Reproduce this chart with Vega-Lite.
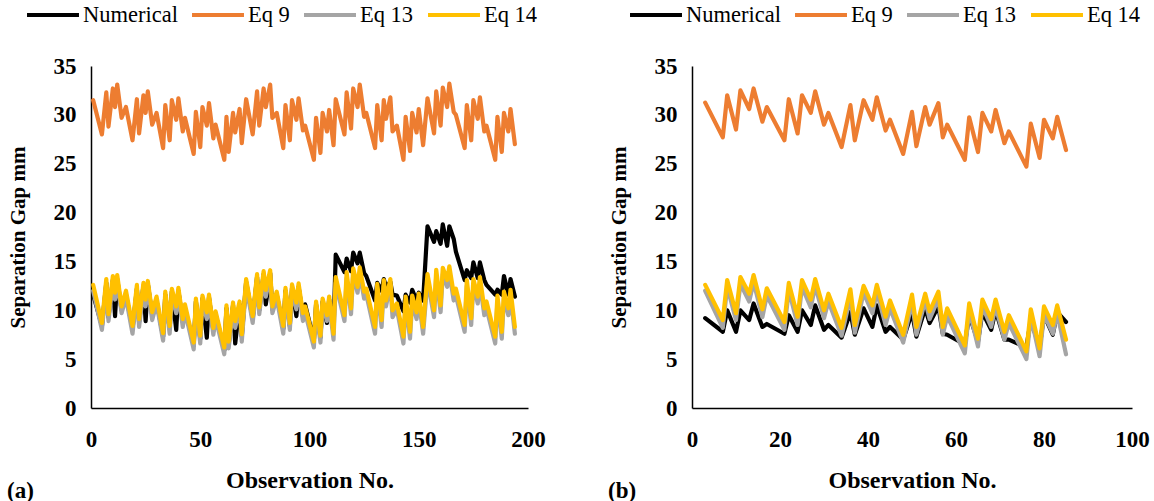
{
  "$schema": "https://vega.github.io/schema/vega-lite/v6.json",
  "background": "white",
  "padding": {"left": 7, "top": 2, "right": 5, "bottom": 0},
  "config": {
    "view": {"stroke": null},
    "font": "Liberation Serif",
    "axis": {
      "domainColor": "black", "domainWidth": 1.5, "ticks": false, "grid": false, "labelFlush": false,
      "labelFont": "Liberation Serif", "labelFontWeight": "bold", "labelFontSize": 23, "labelColor": "black",
      "titleFont": "Liberation Serif", "titleFontWeight": "bold", "titleFontSize": 21, "titleColor": "black"
    },
    "legend": {
      "orient": "none", "direction": "horizontal", "title": null,
      "symbolType": "stroke", "symbolSize": 2700, "symbolStrokeWidth": 4, "clipHeight": 26,
      "labelFont": "Liberation Serif", "labelFontWeight": "normal", "labelFontSize": 22.5, "labelColor": "black",
      "labelOffset": 2, "columnPadding": 12
    },
    "title": {"font": "Liberation Serif", "fontWeight": "bold", "fontSize": 23, "color": "black"}
  },
  "datasets": {
    "panelA": [
      {"Observation": 1, "Numerical": 11.6, "Eq 9": 31.5, "Eq 13": 12.0, "Eq 14": 12.6},
      {"Observation": 5, "Numerical": 8.4, "Eq 9": 28.0, "Eq 13": 8.0, "Eq 14": 8.7},
      {"Observation": 7, "Numerical": 12.8, "Eq 9": 32.3, "Eq 13": 12.6, "Eq 14": 13.2},
      {"Observation": 8, "Numerical": 9.3, "Eq 9": 28.8, "Eq 13": 8.9, "Eq 14": 9.6},
      {"Observation": 10, "Numerical": 13.1, "Eq 9": 32.7, "Eq 13": 12.9, "Eq 14": 13.5},
      {"Observation": 11, "Numerical": 9.4, "Eq 9": 30.8, "Eq 13": 11.1, "Eq 14": 11.8},
      {"Observation": 12, "Numerical": 13.2, "Eq 9": 33.1, "Eq 13": 13.0, "Eq 14": 13.6},
      {"Observation": 14, "Numerical": 10.0, "Eq 9": 29.7, "Eq 13": 9.7, "Eq 14": 10.4},
      {"Observation": 16, "Numerical": 11.6, "Eq 9": 30.8, "Eq 13": 11.3, "Eq 14": 12.0},
      {"Observation": 19, "Numerical": 8.1, "Eq 9": 27.4, "Eq 13": 7.6, "Eq 14": 8.4},
      {"Observation": 21, "Numerical": 12.2, "Eq 9": 31.6, "Eq 13": 12.0, "Eq 14": 12.6},
      {"Observation": 22, "Numerical": 8.8, "Eq 9": 28.1, "Eq 13": 8.3, "Eq 14": 9.1},
      {"Observation": 24, "Numerical": 12.5, "Eq 9": 32.0, "Eq 13": 12.2, "Eq 14": 12.8},
      {"Observation": 25, "Numerical": 8.9, "Eq 9": 30.2, "Eq 13": 10.4, "Eq 14": 11.1},
      {"Observation": 26, "Numerical": 12.7, "Eq 9": 32.4, "Eq 13": 12.4, "Eq 14": 13.0},
      {"Observation": 28, "Numerical": 9.5, "Eq 9": 29.0, "Eq 13": 9.0, "Eq 14": 9.8},
      {"Observation": 30, "Numerical": 11.0, "Eq 9": 30.2, "Eq 13": 10.7, "Eq 14": 11.4},
      {"Observation": 33, "Numerical": 7.3, "Eq 9": 26.6, "Eq 13": 6.9, "Eq 14": 7.65},
      {"Observation": 34, "Numerical": 11.6, "Eq 9": 31.0, "Eq 13": 11.3, "Eq 14": 11.9},
      {"Observation": 36, "Numerical": 8.1, "Eq 9": 27.4, "Eq 13": 7.6, "Eq 14": 8.4},
      {"Observation": 37, "Numerical": 11.9, "Eq 9": 31.5, "Eq 13": 11.6, "Eq 14": 12.2},
      {"Observation": 39, "Numerical": 8.0, "Eq 9": 29.5, "Eq 13": 9.7, "Eq 14": 10.4},
      {"Observation": 40, "Numerical": 12.0, "Eq 9": 31.7, "Eq 13": 11.7, "Eq 14": 12.3},
      {"Observation": 42, "Numerical": 8.8, "Eq 9": 28.3, "Eq 13": 8.3, "Eq 14": 9.1},
      {"Observation": 43, "Numerical": 10.2, "Eq 9": 29.7, "Eq 13": 9.9, "Eq 14": 10.6},
      {"Observation": 47, "Numerical": 6.4, "Eq 9": 26.0, "Eq 13": 6.0, "Eq 14": 6.7},
      {"Observation": 48, "Numerical": 10.9, "Eq 9": 30.3, "Eq 13": 10.6, "Eq 14": 11.2},
      {"Observation": 50, "Numerical": 7.1, "Eq 9": 26.7, "Eq 13": 6.6, "Eq 14": 7.4},
      {"Observation": 51, "Numerical": 11.2, "Eq 9": 30.8, "Eq 13": 10.9, "Eq 14": 11.5},
      {"Observation": 53, "Numerical": 7.2, "Eq 9": 28.9, "Eq 13": 9.1, "Eq 14": 9.8},
      {"Observation": 54, "Numerical": 11.3, "Eq 9": 31.2, "Eq 13": 11.0, "Eq 14": 11.6},
      {"Observation": 56, "Numerical": 7.9, "Eq 9": 27.6, "Eq 13": 7.5, "Eq 14": 8.2},
      {"Observation": 57, "Numerical": 9.6, "Eq 9": 29.0, "Eq 13": 9.2, "Eq 14": 9.9},
      {"Observation": 61, "Numerical": 5.9, "Eq 9": 25.4, "Eq 13": 5.5, "Eq 14": 6.2},
      {"Observation": 62, "Numerical": 10.2, "Eq 9": 29.8, "Eq 13": 9.9, "Eq 14": 10.5},
      {"Observation": 63, "Numerical": 6.5, "Eq 9": 26.2, "Eq 13": 6.1, "Eq 14": 6.8},
      {"Observation": 65, "Numerical": 10.5, "Eq 9": 30.2, "Eq 13": 10.2, "Eq 14": 10.8},
      {"Observation": 66, "Numerical": 6.6, "Eq 9": 28.2, "Eq 13": 8.2, "Eq 14": 8.9},
      {"Observation": 68, "Numerical": 10.6, "Eq 9": 30.6, "Eq 13": 10.3, "Eq 14": 10.9},
      {"Observation": 69, "Numerical": 7.3, "Eq 9": 27.1, "Eq 13": 6.8, "Eq 14": 7.55},
      {"Observation": 71, "Numerical": 12.9, "Eq 9": 31.6, "Eq 13": 12.6, "Eq 14": 13.2},
      {"Observation": 74, "Numerical": 9.1, "Eq 9": 28.0, "Eq 13": 8.7, "Eq 14": 9.4},
      {"Observation": 76, "Numerical": 13.4, "Eq 9": 32.4, "Eq 13": 13.1, "Eq 14": 13.7},
      {"Observation": 77, "Numerical": 10.0, "Eq 9": 28.9, "Eq 13": 9.6, "Eq 14": 10.3},
      {"Observation": 79, "Numerical": 13.7, "Eq 9": 32.7, "Eq 13": 13.4, "Eq 14": 14.0},
      {"Observation": 80, "Numerical": 10.6, "Eq 9": 30.8, "Eq 13": 11.4, "Eq 14": 12.1},
      {"Observation": 82, "Numerical": 13.8, "Eq 9": 33.1, "Eq 13": 13.5, "Eq 14": 14.1},
      {"Observation": 83, "Numerical": 10.1, "Eq 9": 29.7, "Eq 13": 9.7, "Eq 14": 10.4},
      {"Observation": 85, "Numerical": 11.6, "Eq 9": 30.2, "Eq 13": 11.2, "Eq 14": 11.9},
      {"Observation": 88, "Numerical": 8.1, "Eq 9": 26.6, "Eq 13": 7.6, "Eq 14": 8.4},
      {"Observation": 89, "Numerical": 12.0, "Eq 9": 31.0, "Eq 13": 11.7, "Eq 14": 12.3},
      {"Observation": 91, "Numerical": 8.4, "Eq 9": 27.4, "Eq 13": 8.0, "Eq 14": 8.7},
      {"Observation": 92, "Numerical": 12.3, "Eq 9": 31.5, "Eq 13": 12.0, "Eq 14": 12.65},
      {"Observation": 94, "Numerical": 9.4, "Eq 9": 29.5, "Eq 13": 10.1, "Eq 14": 10.8},
      {"Observation": 95, "Numerical": 12.4, "Eq 9": 31.7, "Eq 13": 12.1, "Eq 14": 12.75},
      {"Observation": 97, "Numerical": 9.4, "Eq 9": 28.4, "Eq 13": 8.9, "Eq 14": 9.7},
      {"Observation": 98, "Numerical": 10.6, "Eq 9": 28.9, "Eq 13": 9.8, "Eq 14": 10.4},
      {"Observation": 102, "Numerical": 6.9, "Eq 9": 25.4, "Eq 13": 6.2, "Eq 14": 6.8},
      {"Observation": 103, "Numerical": 10.6, "Eq 9": 29.7, "Eq 13": 10.3, "Eq 14": 10.9},
      {"Observation": 105, "Numerical": 7.2, "Eq 9": 26.1, "Eq 13": 6.7, "Eq 14": 7.4},
      {"Observation": 106, "Numerical": 10.9, "Eq 9": 30.2, "Eq 13": 10.6, "Eq 14": 11.2},
      {"Observation": 108, "Numerical": 8.7, "Eq 9": 28.3, "Eq 13": 8.9, "Eq 14": 9.5},
      {"Observation": 109, "Numerical": 11.1, "Eq 9": 30.5, "Eq 13": 10.8, "Eq 14": 11.4},
      {"Observation": 111, "Numerical": 7.9, "Eq 9": 26.9, "Eq 13": 7.0, "Eq 14": 7.6},
      {"Observation": 112, "Numerical": 15.7, "Eq 9": 31.6, "Eq 13": 12.8, "Eq 14": 13.4},
      {"Observation": 116, "Numerical": 13.9, "Eq 9": 28.0, "Eq 13": 8.9, "Eq 14": 9.5},
      {"Observation": 117, "Numerical": 15.3, "Eq 9": 32.3, "Eq 13": 13.3, "Eq 14": 13.9},
      {"Observation": 119, "Numerical": 14.0, "Eq 9": 28.6, "Eq 13": 9.6, "Eq 14": 10.2},
      {"Observation": 120, "Numerical": 15.9, "Eq 9": 32.7, "Eq 13": 13.7, "Eq 14": 14.3},
      {"Observation": 122, "Numerical": 14.8, "Eq 9": 30.8, "Eq 13": 11.8, "Eq 14": 12.4},
      {"Observation": 123, "Numerical": 15.9, "Eq 9": 33.1, "Eq 13": 13.8, "Eq 14": 14.4},
      {"Observation": 125, "Numerical": 13.8, "Eq 9": 29.8, "Eq 13": 11.2, "Eq 14": 11.9},
      {"Observation": 126, "Numerical": 13.5, "Eq 9": 30.2, "Eq 13": 11.6, "Eq 14": 12.2},
      {"Observation": 130, "Numerical": 11.0, "Eq 9": 26.6, "Eq 13": 7.6, "Eq 14": 8.3},
      {"Observation": 131, "Numerical": 12.8, "Eq 9": 31.0, "Eq 13": 12.1, "Eq 14": 12.7},
      {"Observation": 133, "Numerical": 12.0, "Eq 9": 27.4, "Eq 13": 8.3, "Eq 14": 9.0},
      {"Observation": 134, "Numerical": 13.2, "Eq 9": 31.5, "Eq 13": 12.5, "Eq 14": 13.1},
      {"Observation": 135, "Numerical": 12.4, "Eq 9": 29.6, "Eq 13": 10.4, "Eq 14": 11.0},
      {"Observation": 137, "Numerical": 12.9, "Eq 9": 31.8, "Eq 13": 12.6, "Eq 14": 13.2},
      {"Observation": 138, "Numerical": 11.6, "Eq 9": 28.3, "Eq 13": 9.3, "Eq 14": 10.0},
      {"Observation": 140, "Numerical": 11.5, "Eq 9": 28.9, "Eq 13": 10.1, "Eq 14": 10.7},
      {"Observation": 143, "Numerical": 9.9, "Eq 9": 25.4, "Eq 13": 6.6, "Eq 14": 7.3},
      {"Observation": 144, "Numerical": 11.6, "Eq 9": 29.8, "Eq 13": 10.8, "Eq 14": 11.4},
      {"Observation": 146, "Numerical": 10.8, "Eq 9": 26.3, "Eq 13": 7.1, "Eq 14": 7.8},
      {"Observation": 147, "Numerical": 12.1, "Eq 9": 30.2, "Eq 13": 10.9, "Eq 14": 11.5},
      {"Observation": 149, "Numerical": 11.0, "Eq 9": 28.2, "Eq 13": 9.1, "Eq 14": 9.8},
      {"Observation": 150, "Numerical": 11.8, "Eq 9": 30.6, "Eq 13": 11.1, "Eq 14": 11.7},
      {"Observation": 152, "Numerical": 11.0, "Eq 9": 26.9, "Eq 13": 7.6, "Eq 14": 8.3},
      {"Observation": 154, "Numerical": 18.6, "Eq 9": 31.7, "Eq 13": 13.1, "Eq 14": 13.7},
      {"Observation": 157, "Numerical": 17.0, "Eq 9": 28.1, "Eq 13": 9.3, "Eq 14": 10.0},
      {"Observation": 158, "Numerical": 18.1, "Eq 9": 32.4, "Eq 13": 13.5, "Eq 14": 14.15},
      {"Observation": 160, "Numerical": 16.8, "Eq 9": 28.9, "Eq 13": 9.8, "Eq 14": 10.5},
      {"Observation": 161, "Numerical": 18.8, "Eq 9": 32.8, "Eq 13": 13.7, "Eq 14": 14.35},
      {"Observation": 163, "Numerical": 16.6, "Eq 9": 30.8, "Eq 13": 12.4, "Eq 14": 13.1},
      {"Observation": 164, "Numerical": 18.6, "Eq 9": 33.2, "Eq 13": 13.9, "Eq 14": 14.5},
      {"Observation": 166, "Numerical": 17.3, "Eq 9": 30.3, "Eq 13": 11.0, "Eq 14": 11.7},
      {"Observation": 167, "Numerical": 16.0, "Eq 9": 30.0, "Eq 13": 11.5, "Eq 14": 12.2},
      {"Observation": 171, "Numerical": 13.1, "Eq 9": 26.6, "Eq 13": 7.8, "Eq 14": 8.5},
      {"Observation": 172, "Numerical": 14.1, "Eq 9": 31.0, "Eq 13": 12.5, "Eq 14": 13.1},
      {"Observation": 174, "Numerical": 13.3, "Eq 9": 27.4, "Eq 13": 8.5, "Eq 14": 9.2},
      {"Observation": 175, "Numerical": 14.9, "Eq 9": 31.5, "Eq 13": 12.6, "Eq 14": 13.2},
      {"Observation": 177, "Numerical": 13.3, "Eq 9": 29.6, "Eq 13": 10.7, "Eq 14": 11.4},
      {"Observation": 178, "Numerical": 14.9, "Eq 9": 31.8, "Eq 13": 12.8, "Eq 14": 13.4},
      {"Observation": 180, "Numerical": 13.1, "Eq 9": 28.3, "Eq 13": 9.5, "Eq 14": 10.2},
      {"Observation": 181, "Numerical": 12.6, "Eq 9": 28.9, "Eq 13": 10.2, "Eq 14": 10.9},
      {"Observation": 185, "Numerical": 11.6, "Eq 9": 25.4, "Eq 13": 6.6, "Eq 14": 7.3},
      {"Observation": 186, "Numerical": 12.1, "Eq 9": 29.8, "Eq 13": 10.9, "Eq 14": 11.5},
      {"Observation": 188, "Numerical": 11.6, "Eq 9": 26.2, "Eq 13": 7.1, "Eq 14": 7.8},
      {"Observation": 189, "Numerical": 13.5, "Eq 9": 30.2, "Eq 13": 11.3, "Eq 14": 11.9},
      {"Observation": 191, "Numerical": 11.6, "Eq 9": 28.3, "Eq 13": 9.5, "Eq 14": 10.2},
      {"Observation": 192, "Numerical": 13.2, "Eq 9": 30.6, "Eq 13": 11.5, "Eq 14": 12.1},
      {"Observation": 194, "Numerical": 11.4, "Eq 9": 27.0, "Eq 13": 7.6, "Eq 14": 8.3}
    ],
    "panelB": [
      {"Observation": 3, "Numerical": 9.2, "Eq 9": 31.25, "Eq 13": 12.0, "Eq 14": 12.6},
      {"Observation": 7, "Numerical": 7.8, "Eq 9": 27.7, "Eq 13": 8.2, "Eq 14": 9.0},
      {"Observation": 8, "Numerical": 10.0, "Eq 9": 32.0, "Eq 13": 12.4, "Eq 14": 13.1},
      {"Observation": 10, "Numerical": 7.8, "Eq 9": 28.5, "Eq 13": 9.0, "Eq 14": 9.7},
      {"Observation": 11, "Numerical": 10.0, "Eq 9": 32.5, "Eq 13": 12.7, "Eq 14": 13.4},
      {"Observation": 13, "Numerical": 9.0, "Eq 9": 30.6, "Eq 13": 10.9, "Eq 14": 11.7},
      {"Observation": 14, "Numerical": 10.7, "Eq 9": 32.7, "Eq 13": 12.9, "Eq 14": 13.6},
      {"Observation": 16, "Numerical": 8.3, "Eq 9": 29.3, "Eq 13": 9.3, "Eq 14": 10.1},
      {"Observation": 17, "Numerical": 8.6, "Eq 9": 30.8, "Eq 13": 11.5, "Eq 14": 12.25},
      {"Observation": 21, "Numerical": 7.6, "Eq 9": 27.4, "Eq 13": 8.0, "Eq 14": 8.8},
      {"Observation": 22, "Numerical": 9.5, "Eq 9": 31.6, "Eq 13": 12.1, "Eq 14": 12.8},
      {"Observation": 24, "Numerical": 7.8, "Eq 9": 28.1, "Eq 13": 8.5, "Eq 14": 9.35},
      {"Observation": 25, "Numerical": 10.0, "Eq 9": 32.0, "Eq 13": 12.4, "Eq 14": 13.1},
      {"Observation": 27, "Numerical": 8.5, "Eq 9": 30.2, "Eq 13": 10.3, "Eq 14": 11.1},
      {"Observation": 28, "Numerical": 10.5, "Eq 9": 32.4, "Eq 13": 12.5, "Eq 14": 13.2},
      {"Observation": 30, "Numerical": 8.0, "Eq 9": 29.0, "Eq 13": 9.2, "Eq 14": 10.0},
      {"Observation": 31, "Numerical": 8.5, "Eq 9": 30.2, "Eq 13": 10.9, "Eq 14": 11.7},
      {"Observation": 34, "Numerical": 7.2, "Eq 9": 26.7, "Eq 13": 7.4, "Eq 14": 8.2},
      {"Observation": 36, "Numerical": 9.8, "Eq 9": 31.0, "Eq 13": 11.4, "Eq 14": 12.15},
      {"Observation": 37, "Numerical": 7.5, "Eq 9": 27.4, "Eq 13": 7.7, "Eq 14": 8.5},
      {"Observation": 39, "Numerical": 10.2, "Eq 9": 31.5, "Eq 13": 11.8, "Eq 14": 12.5},
      {"Observation": 41, "Numerical": 8.3, "Eq 9": 29.5, "Eq 13": 9.7, "Eq 14": 10.5},
      {"Observation": 42, "Numerical": 10.5, "Eq 9": 31.8, "Eq 13": 11.9, "Eq 14": 12.6},
      {"Observation": 44, "Numerical": 7.8, "Eq 9": 28.4, "Eq 13": 8.5, "Eq 14": 9.35},
      {"Observation": 45, "Numerical": 8.3, "Eq 9": 29.5, "Eq 13": 10.2, "Eq 14": 11.0},
      {"Observation": 48, "Numerical": 7.0, "Eq 9": 26.0, "Eq 13": 6.7, "Eq 14": 7.5},
      {"Observation": 50, "Numerical": 9.8, "Eq 9": 30.3, "Eq 13": 10.9, "Eq 14": 11.6},
      {"Observation": 51, "Numerical": 7.3, "Eq 9": 26.8, "Eq 13": 7.5, "Eq 14": 8.3},
      {"Observation": 53, "Numerical": 10.2, "Eq 9": 30.8, "Eq 13": 11.0, "Eq 14": 11.7},
      {"Observation": 54, "Numerical": 8.7, "Eq 9": 29.0, "Eq 13": 9.1, "Eq 14": 9.9},
      {"Observation": 56, "Numerical": 10.4, "Eq 9": 31.2, "Eq 13": 11.2, "Eq 14": 11.9},
      {"Observation": 57, "Numerical": 7.6, "Eq 9": 27.7, "Eq 13": 7.5, "Eq 14": 8.3},
      {"Observation": 58, "Numerical": 7.5, "Eq 9": 29.0, "Eq 13": 9.4, "Eq 14": 10.2},
      {"Observation": 62, "Numerical": 6.5, "Eq 9": 25.4, "Eq 13": 5.6, "Eq 14": 6.4},
      {"Observation": 63, "Numerical": 9.5, "Eq 9": 29.75, "Eq 13": 10.0, "Eq 14": 10.7},
      {"Observation": 65, "Numerical": 6.8, "Eq 9": 26.2, "Eq 13": 6.3, "Eq 14": 7.1},
      {"Observation": 66, "Numerical": 9.8, "Eq 9": 30.2, "Eq 13": 10.4, "Eq 14": 11.1},
      {"Observation": 68, "Numerical": 8.0, "Eq 9": 28.3, "Eq 13": 8.3, "Eq 14": 9.1},
      {"Observation": 69, "Numerical": 10.0, "Eq 9": 30.5, "Eq 13": 10.4, "Eq 14": 11.1},
      {"Observation": 71, "Numerical": 7.0, "Eq 9": 27.1, "Eq 13": 7.0, "Eq 14": 7.8},
      {"Observation": 72, "Numerical": 7.0, "Eq 9": 28.3, "Eq 13": 8.7, "Eq 14": 9.5},
      {"Observation": 76, "Numerical": 6.2, "Eq 9": 24.7, "Eq 13": 5.0, "Eq 14": 5.8},
      {"Observation": 77, "Numerical": 9.0, "Eq 9": 29.1, "Eq 13": 9.4, "Eq 14": 10.1},
      {"Observation": 79, "Numerical": 6.2, "Eq 9": 25.6, "Eq 13": 5.3, "Eq 14": 6.1},
      {"Observation": 80, "Numerical": 9.5, "Eq 9": 29.5, "Eq 13": 9.6, "Eq 14": 10.4},
      {"Observation": 82, "Numerical": 7.5, "Eq 9": 27.6, "Eq 13": 7.6, "Eq 14": 8.5},
      {"Observation": 83, "Numerical": 9.8, "Eq 9": 29.8, "Eq 13": 9.7, "Eq 14": 10.5},
      {"Observation": 85, "Numerical": 8.8, "Eq 9": 26.4, "Eq 13": 5.5, "Eq 14": 7.0}
    ]
  },
  "bounds": "flush",
  "spacing": 164,
  "resolve": {"scale": {"color": "independent"}, "legend": {"color": "independent"}},
  "hconcat": [
    {
      "width": 437,
      "height": 342,
      "title": {"text": "(a)", "orient": "bottom", "anchor": "start", "frame": "bounds", "offset": -12},
      "data": {"name": "panelA"},
      "transform": [{"fold": ["Numerical", "Eq 9", "Eq 13", "Eq 14"], "as": ["Series", "Gap"]}],
      "mark": {"type": "line", "strokeWidth": 4.2, "strokeJoin": "round", "strokeCap": "round"},
      "encoding": {
        "x": {
          "field": "Observation", "type": "quantitative",
          "scale": {"domain": [0, 200], "nice": false},
          "axis": {"values": [0, 50, 100, 150, 200], "title": "Observation No.", "titleFontSize": 24, "labelPadding": 20, "titlePadding": 17}
        },
        "y": {
          "field": "Gap", "type": "quantitative",
          "scale": {"domain": [0, 35], "nice": false},
          "axis": {"values": [0, 5, 10, 15, 20, 25, 30, 35], "title": "Separation Gap mm", "labelPadding": 15, "titlePadding": 25}
        },
        "color": {
          "field": "Series", "type": "nominal",
          "scale": {"domain": ["Numerical", "Eq 9", "Eq 13", "Eq 14"], "range": ["#000000", "#ED7D31", "#A5A5A5", "#FFC000"]},
          "legend": {"legendX": -66, "legendY": -64, "labelFont": "Liberation Serif", "labelFontSize": 22.5}
        }
      }
    },
    {
      "width": 440,
      "height": 342,
      "title": {"text": "(b)", "orient": "bottom", "anchor": "start", "frame": "bounds", "offset": -12},
      "data": {"name": "panelB"},
      "transform": [{"fold": ["Numerical", "Eq 9", "Eq 13", "Eq 14"], "as": ["Series", "Gap"]}],
      "mark": {"type": "line", "strokeWidth": 4.2, "strokeJoin": "round", "strokeCap": "round"},
      "encoding": {
        "x": {
          "field": "Observation", "type": "quantitative",
          "scale": {"domain": [0, 100], "nice": false},
          "axis": {"values": [0, 20, 40, 60, 80, 100], "title": "Observation No.", "titleFontSize": 24, "labelPadding": 20, "titlePadding": 17}
        },
        "y": {
          "field": "Gap", "type": "quantitative",
          "scale": {"domain": [0, 35], "nice": false},
          "axis": {"values": [0, 5, 10, 15, 20, 25, 30, 35], "title": "Separation Gap mm", "labelPadding": 15, "titlePadding": 25}
        },
        "color": {
          "field": "Series", "type": "nominal",
          "scale": {"domain": ["Numerical", "Eq 9", "Eq 13", "Eq 14"], "range": ["#000000", "#ED7D31", "#A5A5A5", "#FFC000"]},
          "legend": {"legendX": -64, "legendY": -64, "labelFont": "Liberation Serif", "labelFontSize": 22.5}
        }
      }
    }
  ]
}
